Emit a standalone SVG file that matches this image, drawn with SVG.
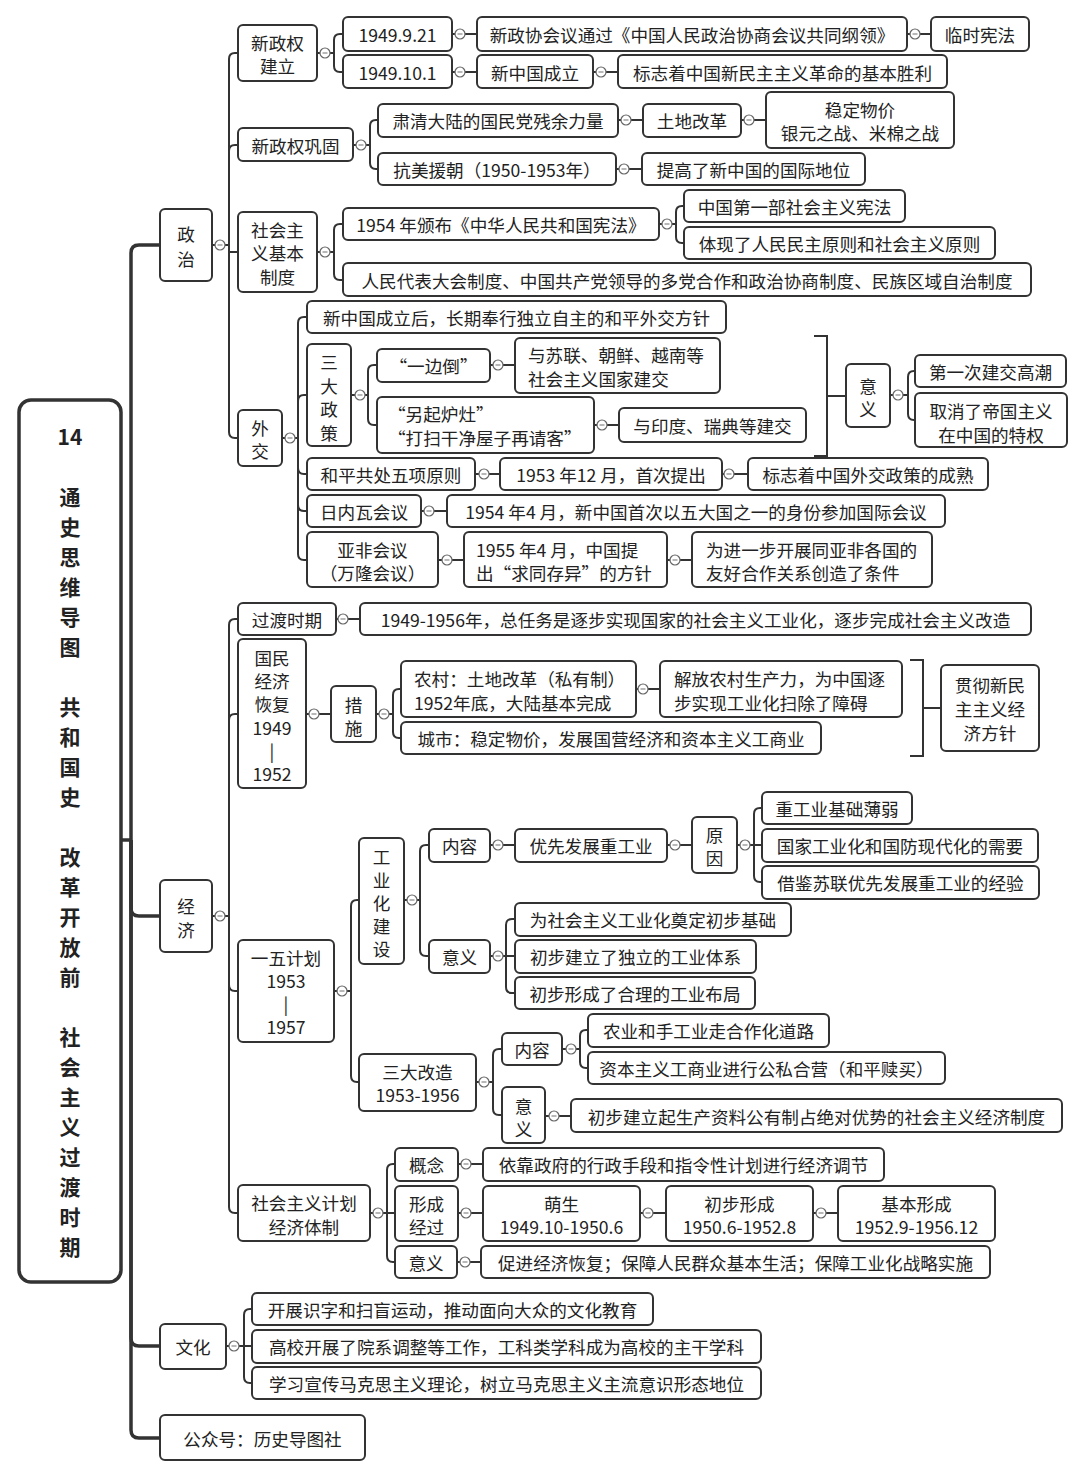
<svg xmlns="http://www.w3.org/2000/svg" width="1080" height="1479" viewBox="0 0 1080 1479">
<style>
rect{fill:#fff;stroke:#333;stroke-width:2}
text{font-family:"Noto Sans CJK SC","Noto Sans",sans-serif;font-size:17.6px;fill:#222;dominant-baseline:central;text-anchor:middle}
.l{text-anchor:start}
.c path{fill:none;stroke:#333;stroke-width:2}
.c .tr{stroke-width:3.5}
#tg circle{fill:#fff;stroke:#666;stroke-width:1.2}
#tg path{stroke:#888;stroke-width:1.2}
.root rect{stroke-width:3.5}
.root text{font-size:21px;font-weight:700}
</style>
<defs>
<g id="tg"><circle cx="0" cy="0" r="5"/><path d="M-2.5,0H2.5"/></g>
</defs>
<rect x="0" y="0" width="1080" height="1479" style="fill:#fff;stroke:none"/>
<g class="c" id="connectors">
<path class="tr" d="M121,840H131"/>
<path class="tr" d="M131,840V253Q131,245 139,245H160"/>
<path class="tr" d="M131,840V908Q131,916 139,916H160"/>
<path class="tr" d="M131,840V1338Q131,1346 139,1346H160"/>
<path class="tr" d="M131,840V1430Q131,1438 139,1438H160"/>
<path d="M212,245H229V59Q229,53 235,53H238"/>
<path d="M212,245H229V151Q229,145 235,145H238"/>
<path d="M212,245H229V252H238"/>
<path d="M212,245H229V432Q229,438 235,438H238"/>
<path d="M317,53H334V40Q334,34 340,34H343"/>
<path d="M317,53H334V66Q334,72 340,72H343"/>
<path d="M452,34H477"/><path d="M907,34H931"/>
<path d="M452,72H477"/><path d="M593,72H618"/>
<path d="M353,145H370V126Q370,120 376,120H378"/>
<path d="M353,145H370V163Q370,169 376,169H378"/>
<path d="M618,120H643"/><path d="M741,120H766"/><path d="M616,169H642"/>
<path d="M317,252H334V230Q334,224 340,224H343"/>
<path d="M317,252H334V274Q334,280 340,280H343"/>
<path d="M659,224H676V212Q676,206 682,206H684"/>
<path d="M659,224H676V237Q676,243 682,243H684"/>
<path d="M282,438H298V323Q298,317 304,317H307"/>
<path d="M282,438H298V401Q298,395 304,395H307"/>
<path d="M282,438H298V468Q298,474 304,474H307"/>
<path d="M282,438H298V505Q298,511 304,511H307"/>
<path d="M282,438H298V554Q298,560 304,560H307"/>
<path d="M351,395H368V371Q368,365 374,365H377"/>
<path d="M351,395H368V419Q368,425 374,425H377"/>
<path d="M490,365H515"/><path d="M594,425H619"/>
<path d="M814,336H827V456H814"/><path d="M827,396H846"/>
<path d="M890,395H908V377Q908,371 914,371H915"/>
<path d="M890,395H908V414Q908,420 914,420H915"/>
<path d="M475,474H500"/><path d="M722,474H748"/>
<path d="M421,511H447"/>
<path d="M438,560H464"/><path d="M667,560H692"/>
<path d="M212,916H229V625Q229,619 235,619H238"/>
<path d="M212,916H229V720Q229,714 235,714H238"/>
<path d="M212,916H229V985Q229,991 235,991H238"/>
<path d="M212,916H229V1207Q229,1213 235,1213H238"/>
<path d="M336,619H360"/>
<path d="M306,714H331"/>
<path d="M376,714H393V695Q393,689 399,689H401"/>
<path d="M376,714H393V732Q393,738 399,738H401"/>
<path d="M636,689H660"/>
<path d="M910,660H923V756H910"/><path d="M923,708H941"/>
<path d="M334,991H351V906Q351,900 357,900H359"/>
<path d="M334,991H351V1076Q351,1082 357,1082H359"/>
<path d="M404,900H420V851Q420,845 426,845H429"/>
<path d="M404,900H420V950Q420,956 426,956H429"/>
<path d="M490,845H515"/><path d="M667,845H692"/>
<path d="M737,845H754V814Q754,808 760,808H762"/>
<path d="M737,845H762"/>
<path d="M737,845H754V876Q754,882 760,882H762"/>
<path d="M490,956H506V925Q506,919 512,919H515"/>
<path d="M490,956H515"/>
<path d="M490,956H506V987Q506,993 512,993H515"/>
<path d="M476,1082H493V1055Q493,1049 499,1049H502"/>
<path d="M476,1082H493V1109Q493,1115 499,1115H502"/>
<path d="M562,1049H580V1036Q580,1030 586,1030H588"/>
<path d="M562,1049H580V1062Q580,1068 586,1068H588"/>
<path d="M545,1116H571"/>
<path d="M370,1213H387V1170Q387,1164 393,1164H395"/>
<path d="M370,1213H395"/>
<path d="M370,1213H387V1256Q387,1262 393,1262H395"/>
<path d="M458,1164H483"/><path d="M458,1213H483"/><path d="M640,1213H666"/><path d="M813,1213H838"/><path d="M457,1262H481"/>
<path d="M226,1346H244V1315Q244,1309 250,1309H252"/>
<path d="M226,1346H252"/>
<path d="M226,1346H244V1377Q244,1383 250,1383H252"/>
</g>
<g id="toggles">
<use href="#tg" x="220" y="245"/><use href="#tg" x="325" y="53"/><use href="#tg" x="361" y="145"/><use href="#tg" x="325" y="252"/><use href="#tg" x="290" y="438"/>
<use href="#tg" x="460" y="34"/><use href="#tg" x="460" y="72"/><use href="#tg" x="915" y="34"/><use href="#tg" x="601" y="72"/>
<use href="#tg" x="626" y="120"/><use href="#tg" x="749" y="120"/><use href="#tg" x="624" y="169"/><use href="#tg" x="667" y="224"/>
<use href="#tg" x="360" y="395"/><use href="#tg" x="498" y="365"/><use href="#tg" x="602" y="425"/><use href="#tg" x="898" y="395"/>
<use href="#tg" x="484" y="474"/><use href="#tg" x="729" y="474"/><use href="#tg" x="429" y="511"/><use href="#tg" x="447" y="560"/><use href="#tg" x="675" y="560"/>
<use href="#tg" x="220" y="916"/><use href="#tg" x="343" y="619"/><use href="#tg" x="314" y="714"/><use href="#tg" x="384" y="714"/><use href="#tg" x="643" y="689"/>
<use href="#tg" x="342" y="991"/><use href="#tg" x="412" y="900"/><use href="#tg" x="498" y="845"/><use href="#tg" x="675" y="845"/><use href="#tg" x="745" y="845"/>
<use href="#tg" x="498" y="956"/><use href="#tg" x="484" y="1082"/><use href="#tg" x="571" y="1049"/><use href="#tg" x="554" y="1116"/>
<use href="#tg" x="378" y="1213"/><use href="#tg" x="466" y="1164"/><use href="#tg" x="466" y="1213"/><use href="#tg" x="648" y="1213"/><use href="#tg" x="821" y="1213"/><use href="#tg" x="465" y="1262"/>
<use href="#tg" x="234" y="1346"/>
</g>
<g id="root" class="root"><rect x="19" y="400" width="102" height="882" rx="12"/>
<text x="70"><tspan x="70" y="436">14</tspan><tspan x="70" y="496">通</tspan><tspan x="70" y="526">史</tspan><tspan x="70" y="556">思</tspan><tspan x="70" y="586">维</tspan><tspan x="70" y="616">导</tspan><tspan x="70" y="646">图</tspan><tspan x="70" y="706">共</tspan><tspan x="70" y="736">和</tspan><tspan x="70" y="766">国</tspan><tspan x="70" y="796">史</tspan><tspan x="70" y="856">改</tspan><tspan x="70" y="886">革</tspan><tspan x="70" y="916">开</tspan><tspan x="70" y="946">放</tspan><tspan x="70" y="976">前</tspan><tspan x="70" y="1036">社</tspan><tspan x="70" y="1066">会</tspan><tspan x="70" y="1096">主</tspan><tspan x="70" y="1126">义</tspan><tspan x="70" y="1156">过</tspan><tspan x="70" y="1186">渡</tspan><tspan x="70" y="1216">时</tspan><tspan x="70" y="1246">期</tspan></text></g>
<g id="n-zz"><rect x="160" y="209" width="52" height="72" rx="5"/><text><tspan x="186" y="233">政</tspan><tspan x="186" y="258">治</tspan></text></g>
<g id="n-jj"><rect x="160" y="880" width="52" height="72" rx="5"/><text><tspan x="186" y="905">经</tspan><tspan x="186" y="929">济</tspan></text></g>
<g id="n-wh"><rect x="160" y="1324" width="66" height="45" rx="5"/><text x="193" y="1346">文化</text></g>
<g id="n-gzh"><rect x="160" y="1415" width="205" height="45" rx="5"/><text x="262.5" y="1438">公众号：历史导图社</text></g>
<g id="p1"><rect x="238" y="25" width="79" height="56" rx="5"/><text><tspan x="277.5" y="42">新政权</tspan><tspan x="277.5" y="65">建立</tspan></text></g>
<g id="p2"><rect x="238" y="128" width="115" height="33" rx="5"/><text x="295.5" y="145">新政权巩固</text></g>
<g id="p3"><rect x="238" y="212" width="79" height="80" rx="5"/><text><tspan x="277.5" y="229">社会主</tspan><tspan x="277.5" y="252">义基本</tspan><tspan x="277.5" y="276">制度</tspan></text></g>
<g id="p4"><rect x="238" y="410" width="44" height="56" rx="5"/><text><tspan x="260" y="427">外</tspan><tspan x="260" y="450">交</tspan></text></g>
<g id="p1a"><rect x="343" y="17" width="109" height="34" rx="5"/><text x="397.5" y="34">1949.9.21</text></g>
<g id="p1b"><rect x="343" y="55" width="109" height="33" rx="5"/><text x="397.5" y="72">1949.10.1</text></g>
<g id="p1a1"><rect x="477" y="17" width="430" height="34" rx="5"/><text x="692" y="34">新政协会议通过《中国人民政治协商会议共同纲领》</text></g>
<g id="p1a2"><rect x="931" y="17" width="98" height="34" rx="5"/><text x="980" y="34">临时宪法</text></g>
<g id="p1b1"><rect x="477" y="55" width="116" height="33" rx="5"/><text x="535" y="72">新中国成立</text></g>
<g id="p1b2"><rect x="618" y="55" width="329" height="33" rx="5"/><text x="782.5" y="72">标志着中国新民主主义革命的基本胜利</text></g>
<g id="p2a"><rect x="378" y="104" width="240" height="33" rx="5"/><text x="498" y="120">肃清大陆的国民党残余力量</text></g>
<g id="p2a1"><rect x="643" y="104" width="98" height="33" rx="5"/><text x="692" y="120">土地改革</text></g>
<g id="p2a2"><rect x="766" y="92" width="188" height="56" rx="5"/><text><tspan x="860" y="109">稳定物价</tspan><tspan x="860" y="132">银元之战、米棉之战</tspan></text></g>
<g id="p2b"><rect x="378" y="153" width="238" height="32" rx="5"/><text x="497" y="169">抗美援朝（1950-1953年）</text></g>
<g id="p2b1"><rect x="642" y="153" width="223" height="32" rx="5"/><text x="753.5" y="169">提高了新中国的国际地位</text></g>
<g id="p3a"><rect x="343" y="208" width="316" height="32" rx="5"/><text x="501" y="224">1954 年颁布《中华人民共和国宪法》</text></g>
<g id="p3a1"><rect x="684" y="190" width="221" height="32" rx="5"/><text x="794.5" y="206">中国第一部社会主义宪法</text></g>
<g id="p3a2"><rect x="684" y="227" width="311" height="32" rx="5"/><text x="839.5" y="243">体现了人民民主原则和社会主义原则</text></g>
<g id="p3b"><rect x="343" y="263" width="688" height="33" rx="5"/><text x="687" y="280">人民代表大会制度、中国共产党领导的多党合作和政治协商制度、民族区域自治制度</text></g>
<g id="p4a"><rect x="307" y="301" width="419" height="32" rx="5"/><text x="516.5" y="317">新中国成立后，长期奉行独立自主的和平外交方针</text></g>
<g id="p4b"><rect x="307" y="344" width="44" height="102" rx="5"/><text><tspan x="329" y="361">三</tspan><tspan x="329" y="385">大</tspan><tspan x="329" y="408">政</tspan><tspan x="329" y="432">策</tspan></text></g>
<g id="p4b1"><rect x="377" y="349" width="113" height="33" rx="5"/><text x="433.5" y="365">“一边倒”</text></g>
<g id="p4b2"><rect x="377" y="397" width="217" height="56" rx="5"/><text class="l"><tspan x="388" y="413">“另起炉灶”</tspan><tspan x="388" y="437">“打扫干净屋子再请客”</tspan></text></g>
<g id="p4b1a"><rect x="515" y="338" width="205" height="55" rx="5"/><text class="l"><tspan x="528" y="354">与苏联、朝鲜、越南等</tspan><tspan x="528" y="378">社会主义国家建交</tspan></text></g>
<g id="p4b2a"><rect x="619" y="408" width="187" height="34" rx="5"/><text x="712.5" y="425">与印度、瑞典等建交</text></g>
<g id="p4y"><rect x="846" y="364" width="44" height="63" rx="5"/><text><tspan x="868" y="385">意</tspan><tspan x="868" y="408">义</tspan></text></g>
<g id="p4y1"><rect x="915" y="355" width="151" height="32" rx="5"/><text x="990.5" y="371">第一次建交高潮</text></g>
<g id="p4y2"><rect x="915" y="393" width="152" height="54" rx="5"/><text><tspan x="991" y="410">取消了帝国主义</tspan><tspan x="991" y="434">在中国的特权</tspan></text></g>
<g id="p4c"><rect x="307" y="458" width="168" height="32" rx="5"/><text x="391" y="474">和平共处五项原则</text></g>
<g id="p4c1"><rect x="500" y="458" width="222" height="32" rx="5"/><text x="611" y="474">1953 年12 月，首次提出</text></g>
<g id="p4c2"><rect x="748" y="458" width="240" height="32" rx="5"/><text x="868" y="474">标志着中国外交政策的成熟</text></g>
<g id="p4d"><rect x="307" y="495" width="114" height="32" rx="5"/><text x="364" y="511">日内瓦会议</text></g>
<g id="p4d1"><rect x="447" y="495" width="498" height="32" rx="5"/><text x="696" y="511">1954 年4 月，新中国首次以五大国之一的身份参加国际会议</text></g>
<g id="p4e"><rect x="307" y="532" width="131" height="55" rx="5"/><text><tspan x="372.5" y="549">亚非会议</tspan><tspan x="372.5" y="572">（万隆会议）</tspan></text></g>
<g id="p4e1"><rect x="464" y="532" width="203" height="55" rx="5"/><text class="l"><tspan x="476" y="549">1955 年4 月，中国提</tspan><tspan x="476" y="572">出“求同存异”的方针</tspan></text></g>
<g id="p4e2"><rect x="692" y="532" width="240" height="55" rx="5"/><text class="l"><tspan x="706" y="549">为进一步开展同亚非各国的</tspan><tspan x="706" y="572">友好合作关系创造了条件</tspan></text></g>
<g id="e1"><rect x="238" y="603" width="98" height="32" rx="5"/><text x="287" y="619">过渡时期</text></g>
<g id="e1a"><rect x="360" y="603" width="671" height="32" rx="5"/><text x="695.5" y="619">1949-1956年，总任务是逐步实现国家的社会主义工业化，逐步完成社会主义改造</text></g>
<g id="e2"><rect x="238" y="639" width="68" height="149" rx="5"/><text><tspan x="272" y="657">国民</tspan><tspan x="272" y="680">经济</tspan><tspan x="272" y="703">恢复</tspan><tspan x="272" y="727">1949</tspan><tspan x="272" y="750">|</tspan><tspan x="272" y="773">1952</tspan></text></g>
<g id="e2a"><rect x="331" y="686" width="45" height="56" rx="5"/><text><tspan x="353.5" y="704">措</tspan><tspan x="353.5" y="727">施</tspan></text></g>
<g id="e2a1"><rect x="401" y="661" width="235" height="56" rx="5"/><text class="l"><tspan x="414" y="678">农村：土地改革（私有制）</tspan><tspan x="414" y="702">1952年底，大陆基本完成</tspan></text></g>
<g id="e2a2"><rect x="401" y="722" width="420" height="32" rx="5"/><text x="611" y="738">城市：稳定物价，发展国营经济和资本主义工商业</text></g>
<g id="e2a1a"><rect x="660" y="661" width="242" height="56" rx="5"/><text class="l"><tspan x="674" y="678">解放农村生产力，为中国逐</tspan><tspan x="674" y="702">步实现工业化扫除了障碍</tspan></text></g>
<g id="e2b"><rect x="941" y="665" width="98" height="86" rx="5"/><text><tspan x="990" y="684">贯彻新民</tspan><tspan x="990" y="708">主主义经</tspan><tspan x="990" y="732">济方针</tspan></text></g>
<g id="e3"><rect x="238" y="940" width="96" height="102" rx="5"/><text><tspan x="286" y="957">一五计划</tspan><tspan x="286" y="980">1953</tspan><tspan x="286" y="1003">|</tspan><tspan x="286" y="1026">1957</tspan></text></g>
<g id="e3a"><rect x="359" y="838" width="45" height="126" rx="5"/><text><tspan x="381.5" y="856">工</tspan><tspan x="381.5" y="879">业</tspan><tspan x="381.5" y="902">化</tspan><tspan x="381.5" y="925">建</tspan><tspan x="381.5" y="948">设</tspan></text></g>
<g id="e3a1"><rect x="429" y="829" width="61" height="33" rx="5"/><text x="459.5" y="845">内容</text></g>
<g id="e3a1a"><rect x="515" y="829" width="152" height="33" rx="5"/><text x="591" y="845">优先发展重工业</text></g>
<g id="e3a1b"><rect x="692" y="817" width="45" height="56" rx="5"/><text><tspan x="714.5" y="834">原</tspan><tspan x="714.5" y="857">因</tspan></text></g>
<g id="e3r1"><rect x="762" y="792" width="150" height="32" rx="5"/><text x="837" y="808">重工业基础薄弱</text></g>
<g id="e3r2"><rect x="762" y="829" width="276" height="33" rx="5"/><text x="900" y="845">国家工业化和国防现代化的需要</text></g>
<g id="e3r3"><rect x="762" y="866" width="277" height="33" rx="5"/><text x="900.5" y="882">借鉴苏联优先发展重工业的经验</text></g>
<g id="e3a2"><rect x="429" y="940" width="61" height="33" rx="5"/><text x="459.5" y="956">意义</text></g>
<g id="e3y1"><rect x="515" y="903" width="276" height="33" rx="5"/><text x="653" y="919">为社会主义工业化奠定初步基础</text></g>
<g id="e3y2"><rect x="515" y="940" width="241" height="33" rx="5"/><text x="635.5" y="956">初步建立了独立的工业体系</text></g>
<g id="e3y3"><rect x="515" y="977" width="240" height="32" rx="5"/><text x="635" y="993">初步形成了合理的工业布局</text></g>
<g id="e3b"><rect x="359" y="1054" width="117" height="57" rx="5"/><text><tspan x="417.5" y="1071">三大改造</tspan><tspan x="417.5" y="1094">1953-1956</tspan></text></g>
<g id="e3b1"><rect x="502" y="1033" width="60" height="32" rx="5"/><text x="532" y="1049">内容</text></g>
<g id="e3b1a"><rect x="588" y="1014" width="241" height="33" rx="5"/><text x="708.5" y="1030">农业和手工业走合作化道路</text></g>
<g id="e3b1b"><rect x="588" y="1052" width="357" height="32" rx="5"/><text x="766.5" y="1068">资本主义工商业进行公私合营（和平赎买）</text></g>
<g id="e3b2"><rect x="502" y="1087" width="43" height="56" rx="5"/><text><tspan x="523.5" y="1105">意</tspan><tspan x="523.5" y="1128">义</tspan></text></g>
<g id="e3b2a"><rect x="571" y="1099" width="491" height="33" rx="5"/><text x="816.5" y="1116">初步建立起生产资料公有制占绝对优势的社会主义经济制度</text></g>
<g id="e4"><rect x="238" y="1185" width="132" height="56" rx="5"/><text><tspan x="304" y="1202">社会主义计划</tspan><tspan x="304" y="1226">经济体制</tspan></text></g>
<g id="e4a"><rect x="395" y="1148" width="63" height="33" rx="5"/><text x="426.5" y="1164">概念</text></g>
<g id="e4a1"><rect x="483" y="1148" width="401" height="33" rx="5"/><text x="683.5" y="1164">依靠政府的行政手段和指令性计划进行经济调节</text></g>
<g id="e4b"><rect x="395" y="1186" width="63" height="55" rx="5"/><text><tspan x="426.5" y="1203">形成</tspan><tspan x="426.5" y="1226">经过</tspan></text></g>
<g id="e4b1"><rect x="483" y="1186" width="157" height="55" rx="5"/><text><tspan x="561.5" y="1203">萌生</tspan><tspan x="561.5" y="1226">1949.10-1950.6</tspan></text></g>
<g id="e4b2"><rect x="666" y="1186" width="147" height="55" rx="5"/><text><tspan x="739.5" y="1203">初步形成</tspan><tspan x="739.5" y="1226">1950.6-1952.8</tspan></text></g>
<g id="e4b3"><rect x="838" y="1186" width="157" height="55" rx="5"/><text><tspan x="916.5" y="1203">基本形成</tspan><tspan x="916.5" y="1226">1952.9-1956.12</tspan></text></g>
<g id="e4c"><rect x="395" y="1246" width="62" height="32" rx="5"/><text x="426" y="1262">意义</text></g>
<g id="e4c1"><rect x="481" y="1246" width="509" height="32" rx="5"/><text x="735.5" y="1262">促进经济恢复；保障人民群众基本生活；保障工业化战略实施</text></g>
<g id="w1"><rect x="252" y="1293" width="401" height="32" rx="5"/><text x="452.5" y="1309">开展识字和扫盲运动，推动面向大众的文化教育</text></g>
<g id="w2"><rect x="252" y="1330" width="509" height="33" rx="5"/><text x="506.5" y="1346">高校开展了院系调整等工作，工科类学科成为高校的主干学科</text></g>
<g id="w3"><rect x="252" y="1367" width="509" height="32" rx="5"/><text x="506.5" y="1383">学习宣传马克思主义理论，树立马克思主义主流意识形态地位</text></g>
</svg>
